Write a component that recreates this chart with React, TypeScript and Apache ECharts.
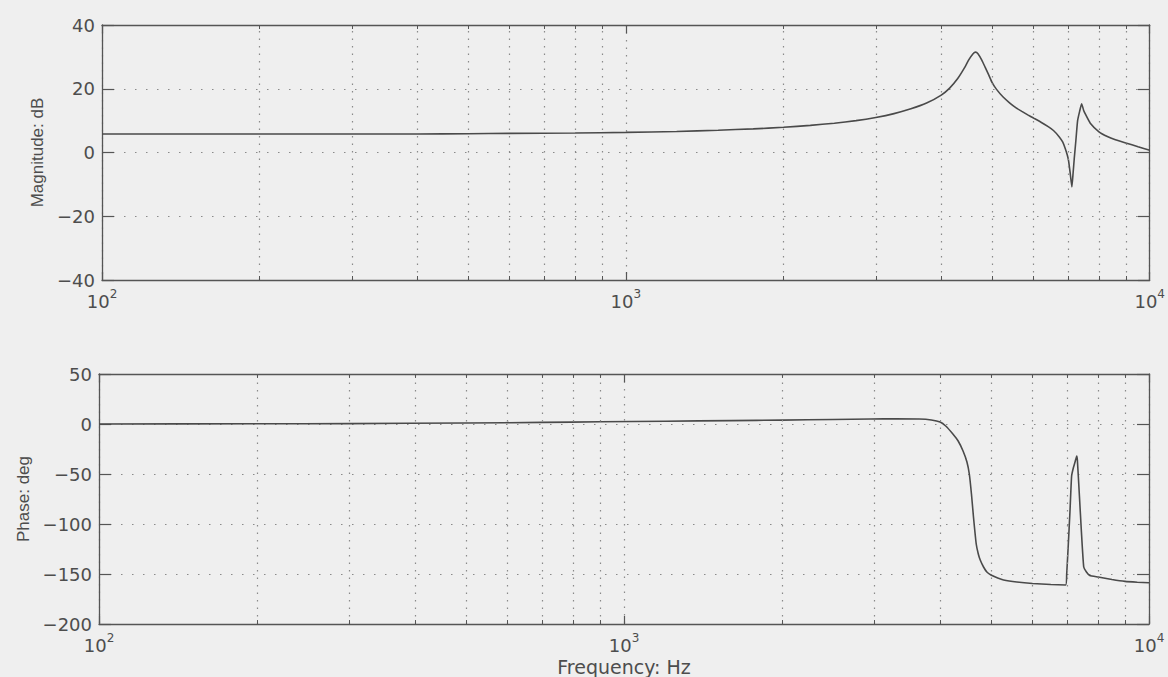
import React, { useEffect, useRef } from "react";
import * as echarts from "echarts";

// Frequency response of the plant: magnitude (dB) and phase (deg) versus frequency (Hz)
const FREQ_MAG = [
  100, 150, 200, 300, 400, 500, 600, 800, 1000, 1250, 1500, 1750, 2000, 2250, 2500, 2750,
  3000, 3250, 3500, 3750, 4000, 4150, 4300, 4420, 4520, 4600, 4650, 4700, 4780, 4850, 4920,
  5000, 5100, 5250, 5400, 5550, 5700, 5850, 6000, 6200, 6400, 6550, 6720, 6820, 6900, 6960,
  7000, 7050, 7102, 7140, 7175, 7230, 7283, 7350, 7413, 7480, 7555, 7700, 8000, 8300, 8600,
  9000, 9500, 10000,
];
const MAG_DB = [
  5.8, 5.8, 5.8, 5.8, 5.8, 5.9, 6.0, 6.1, 6.3, 6.6, 7.0, 7.4, 7.9, 8.5, 9.2, 10.0,
  11.0, 12.2, 13.7, 15.5, 18.0, 20.2, 23.2, 26.3, 29.2, 31.0, 31.5, 31.0, 29.0, 26.8, 24.6,
  22.0, 19.8, 17.4, 15.6, 14.1, 12.9, 11.8, 10.8, 9.5, 8.1, 6.9, 4.9, 3.3, 1.2, -0.8,
  -2.6, -6.5, -10.8, -6.5, -2.1, 4.0, 10.0, 13.0, 15.3, 13.2, 11.7, 9.2, 6.5, 5.0, 4.0,
  3.0, 1.8, 0.7,
];

const FREQ_PHASE = [
  100, 200, 300, 500, 700, 900, 1200, 1600, 2000, 2500, 2950, 3300, 3650, 3850, 4000, 4100,
  4231, 4330, 4424, 4500, 4547, 4590, 4631, 4687, 4730, 4770, 4840, 4911, 5000, 5150, 5285,
  5600, 6000, 6500, 6938, 6970, 7020, 7070, 7122, 7175, 7230, 7283, 7304, 7370, 7435, 7511,
  7600, 7711, 8000, 8500, 9000, 9500, 10000,
];
const PHASE_DEG = [
  0, 0.2, 0.4, 1.0, 1.6, 2.2, 2.8, 3.4, 3.9, 4.5, 5.0, 5.2, 5.0, 4.0, 2.0, -2.0,
  -10, -17, -27, -38, -50, -70, -93, -120, -130, -136, -143, -148, -151, -154, -156,
  -158, -159.5, -160.5, -161, -150, -120, -88, -52, -44, -38, -32, -36, -72, -108, -143,
  -148, -151.5, -153, -155.5, -157.4, -158.2, -158.7,
];

// Axis extents and steps
const FREQ_RANGE = [100, 10000];
const MAG_RANGE = [-40, 40];
const MAG_STEP = 20;
const PHASE_RANGE = [-200, 50];
const PHASE_STEP = 50;
// Intermediate frequencies that carry a dotted grid line and a small tick
const MINOR_FREQS = [200, 300, 400, 500, 600, 700, 800, 900, 2000, 3000, 4000, 5000, 6000, 7000, 8000, 9000];

const INK = "#4d4d4d";
const FRAME = "#555555";
const DOTS = "#8a8a8a";
const TICK_FONT = "DejaVu Sans";
const NAME_FONT = "Liberation Sans";

const minusFmt = (v: number) => (v < 0 ? "\u2212" + Math.abs(v) : String(v));
const decadeFmt = (v: number) => "{b|10}{s|" + Math.round(Math.log10(v)) + "}";

function frame(gridIndex: number, yMin: number, yMax: number, yStep: number, name: string, nameGap: number) {
  const xBottom = {
    type: "log",
    logBase: 10,
    gridIndex,
    position: "bottom",
    min: FREQ_RANGE[0],
    max: FREQ_RANGE[1],
    axisLine: { show: true, onZero: false, lineStyle: { color: FRAME, width: 1.3 } },
    axisTick: { show: true, inside: true, length: 8, lineStyle: { color: FRAME, width: 1.2 } },
    axisLabel: {
      show: true,
      margin: 8,
      showMinLabel: true,
      showMaxLabel: true,
      formatter: decadeFmt,
      rich: {
        b: { fontFamily: TICK_FONT, fontSize: 18, lineHeight: 26, color: INK },
        s: { fontFamily: TICK_FONT, fontSize: 12, lineHeight: 12, verticalAlign: "top", color: INK },
      },
    },
    splitLine: { show: true, lineStyle: { type: [1.5, 6], color: DOTS, width: 1.2 } },
  };
  const xTop = {
    type: "log",
    logBase: 10,
    gridIndex,
    position: "top",
    min: FREQ_RANGE[0],
    max: FREQ_RANGE[1],
    axisLine: { show: true, onZero: false, lineStyle: { color: FRAME, width: 1.3 } },
    axisTick: { show: true, inside: true, length: 8, lineStyle: { color: FRAME, width: 1.2 } },
    axisLabel: { show: false },
    splitLine: { show: false },
  };
  const yLeft = {
    type: "value",
    gridIndex,
    position: "left",
    min: yMin,
    max: yMax,
    interval: yStep,
    name,
    nameLocation: "middle",
    nameGap,
    nameTextStyle: { fontFamily: NAME_FONT, fontSize: 17, color: INK },
    axisLine: { show: true, onZero: false, lineStyle: { color: FRAME, width: 1.3 } },
    axisTick: { show: true, inside: true, length: 12, lineStyle: { color: FRAME, width: 1.2 } },
    axisLabel: { show: true, margin: 7, formatter: minusFmt, fontFamily: TICK_FONT, fontSize: 18, color: INK },
    splitLine: { show: true, lineStyle: { type: [1.5, 9.5], color: DOTS, width: 1.2 } },
  };
  const yRight = {
    type: "value",
    gridIndex,
    position: "right",
    min: yMin,
    max: yMax,
    interval: yStep,
    axisLine: { show: true, onZero: false, lineStyle: { color: FRAME, width: 1.3 } },
    axisTick: { show: true, inside: true, length: 12, lineStyle: { color: FRAME, width: 1.2 } },
    axisLabel: { show: false },
    splitLine: { show: false },
  };
  return { xBottom, xTop, yLeft, yRight };
}

function minorMarks(yMin: number, yMax: number, tickLen: number) {
  const gridLines = MINOR_FREQS.map((f) => ({ xAxis: f }));
  const tickStyle = { type: "solid", color: FRAME, width: 1 };
  const bottomTicks = MINOR_FREQS.map((f) => [
    { coord: [f, yMin], lineStyle: tickStyle },
    { coord: [f, yMin + tickLen] },
  ]);
  const topTicks = MINOR_FREQS.map((f) => [
    { coord: [f, yMax], lineStyle: tickStyle },
    { coord: [f, yMax - tickLen] },
  ]);
  return {
    silent: true,
    symbol: "none",
    animation: false,
    label: { show: false },
    emphasis: { disabled: true },
    lineStyle: { type: [1.5, 6], color: DOTS, width: 1.2 },
    data: [...gridLines, ...bottomTicks, ...topTicks],
  };
}

export default function App() {
  const ref = useRef<HTMLDivElement>(null);

  useEffect(() => {
    if (!ref.current) return;
    const chart = echarts.init(ref.current, null, { renderer: "svg" });

    const top = frame(0, MAG_RANGE[0], MAG_RANGE[1], MAG_STEP, "Magnitude: dB", 50);
    const bottom = frame(1, PHASE_RANGE[0], PHASE_RANGE[1], PHASE_STEP, "Phase: deg", 63);

    const magPx = 255;
    const phPx = 252;

    chart.setOption({
      animation: false,
      backgroundColor: "#efefef",
      grid: [
        { left: 102, right: 15, top: 25, height: magPx },
        { left: 99, right: 19, top: 374, height: phPx },
      ],
      xAxis: [
        top.xBottom,
        top.xTop,
        {
          ...bottom.xBottom,
          name: "Frequency: Hz",
          nameLocation: "middle",
          nameGap: 33,
          nameTextStyle: { fontFamily: TICK_FONT, fontSize: 19, color: INK, verticalAlign: "top" },
        },
        bottom.xTop,
      ],
      yAxis: [top.yLeft, top.yRight, bottom.yLeft, bottom.yRight],
      series: [
        {
          type: "line",
          name: "Magnitude",
          xAxisIndex: 0,
          yAxisIndex: 0,
          data: FREQ_MAG.map((f, i) => [f, MAG_DB[i]]),
          showSymbol: false,
          smooth: 0.15,
          lineStyle: { color: "#4a4a4a", width: 1.6 },
          markLine: minorMarks(MAG_RANGE[0], MAG_RANGE[1], ((MAG_RANGE[1] - MAG_RANGE[0]) / magPx) * 4),
        },
        {
          type: "line",
          name: "Phase",
          xAxisIndex: 2,
          yAxisIndex: 2,
          data: FREQ_PHASE.map((f, i) => [f, PHASE_DEG[i]]),
          showSymbol: false,
          smooth: 0.15,
          lineStyle: { color: "#4a4a4a", width: 1.6 },
          markLine: minorMarks(PHASE_RANGE[0], PHASE_RANGE[1], ((PHASE_RANGE[1] - PHASE_RANGE[0]) / phPx) * 4),
        },
      ],
    });

    return () => chart.dispose();
  }, []);

  return (
    <div
      ref={ref}
      style={{ position: "fixed", left: 0, top: 0, width: 1168, height: 677, background: "#efefef" }}
    />
  );
}
